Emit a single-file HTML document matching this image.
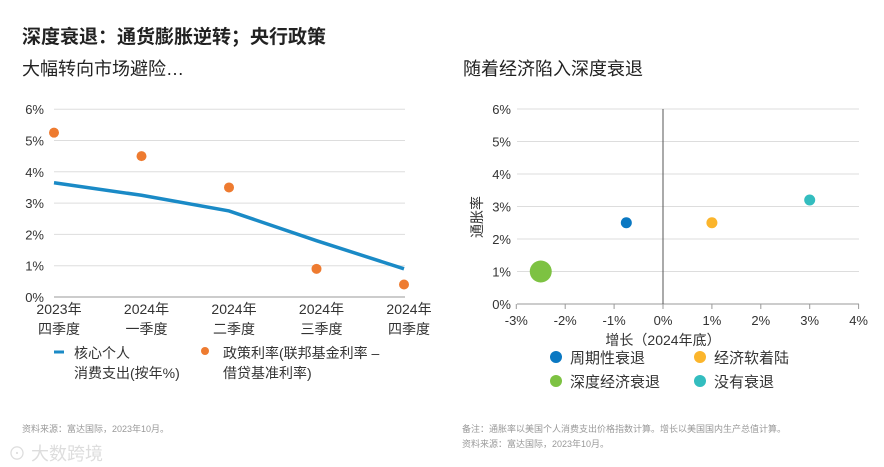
<!DOCTYPE html>
<html><head><meta charset="utf-8"><style>
body{margin:0;width:884px;height:467px;background:#fff;font-family:"Liberation Sans","Noto Sans CJK SC",sans-serif;overflow:hidden;position:relative;color:#222}
.t{position:absolute;white-space:nowrap}
</style></head><body>
<div class="t" style="left:22px;top:22px;font-size:19px;font-weight:bold">深度衰退：通货膨胀逆转；央行政策</div>
<div class="t" style="left:22px;top:55px;font-size:18px">大幅转向市场避险…</div>
<div class="t" style="left:463px;top:55px;font-size:18px">随着经济陷入深度衰退</div>
<div class="t" style="left:22px;top:422px;font-size:9px;color:#999">资料来源：富达国际，2023年10月。</div>
<div class="t" style="left:462px;top:422px;font-size:9px;color:#999">备注：通胀率以美国个人消费支出价格指数计算。增长以美国国内生产总值计算。</div>
<div class="t" style="left:462px;top:437px;font-size:9px;color:#999">资料来源：富达国际，2023年10月。</div>
<div class="t" style="left:8px;top:440px;font-size:18px;color:#ddd">⊙ 大数跨境</div>
<svg id="c" width="884" height="467" style="position:absolute;left:0;top:0"></svg>
<script>
const cats=["2023年|四季度","2024年|一季度","2024年|二季度","2024年|三季度","2024年|四季度"];
const pce=[3.65,3.25,2.75,1.8,0.9];
const policy=[5.25,4.5,3.5,0.9,0.4];
const yTicks=[0,1,2,3,4,5,6];
const xTicks=[-3,-2,-1,0,1,2,3,4];
const scNames=["周期性衰退","经济软着陆","深度经济衰退","没有衰退"];
const scX=[-0.75,1,-2.5,3];
const scY=[2.5,2.5,1,3.2];
const scBig=[0,0,1,0];
const scCol=["#0a78c2","#fbb52c","#7dc242","#33bdbf"];
const NS="http://www.w3.org/2000/svg",svg=document.getElementById('c');
function el(t,a,txt){const e=document.createElementNS(NS,t);for(const k in a)e.setAttribute(k,a[k]);if(txt!=null)e.textContent=txt;svg.appendChild(e);return e;}
const F='"Liberation Sans","Noto Sans CJK SC",sans-serif';
// left chart
const lx=i=>54+i*87.5, ly=v=>297-v*31.3;
yTicks.forEach(v=>{const g=el('line',{x1:54,x2:405,y1:ly(v),y2:ly(v),stroke:v?'#ddd':'#999','stroke-width':1});

const t=el('text',{x:44,y:ly(v)+5,'text-anchor':'end','font-size':13,'font-family':F,fill:'#333'},v+'%');
});
cats.forEach((c,i)=>{c.split('|').forEach((s,j)=>{const t=el('text',{x:lx(i)+5,y:314+j*20,'text-anchor':'middle','font-size':14,'font-family':F,fill:'#333'},s);
});});
const p=el('polyline',{points:pce.map((v,i)=>lx(i)+','+ly(v)).join(' '),fill:'none',stroke:'#1a8ac6','stroke-width':3.5});

policy.forEach((v,i)=>{const c=el('circle',{cx:lx(i),cy:ly(v),r:5,fill:'#ee7b30'});
});
let e=el('line',{x1:54,x2:64,y1:352,y2:352,stroke:'#1a8ac6','stroke-width':3});
e=el('text',{x:74,y:358,'font-size':14,'font-family':F,fill:'#333'},'核心个人');
e=el('text',{x:74,y:378,'font-size':14,'font-family':F,fill:'#333'},'消费支出(按年%)');
e=el('circle',{cx:205,cy:351,r:4,fill:'#ee7b30'});
e=el('text',{x:223,y:358,'font-size':14,'font-family':F,fill:'#333'},'政策利率(联邦基金利率 –');
e=el('text',{x:223,y:378,'font-size':14,'font-family':F,fill:'#333'},'借贷基准利率)');
// right chart
const rx=v=>663+v*48.9, ry=v=>304-v*32.5;
yTicks.forEach(v=>{const g=el('line',{x1:517,x2:859,y1:ry(v),y2:ry(v),stroke:v?'#ddd':'#999','stroke-width':1});

const t=el('text',{x:511,y:ry(v)+5,'text-anchor':'end','font-size':13,'font-family':F,fill:'#333'},v+'%');
});
xTicks.forEach(v=>{const l=el('line',{x1:rx(v),x2:rx(v),y1:304,y2:309,stroke:'#999'});
const t=el('text',{x:rx(v),y:325,'text-anchor':'middle','font-size':13,'font-family':F,fill:'#333'},v+'%');
});
e=el('line',{x1:rx(0),x2:rx(0),y1:109,y2:304,stroke:'#555','stroke-width':1});
e=el('text',{x:663,y:345,'text-anchor':'middle','font-size':14,'font-family':F,fill:'#333'},'增长（2024年底）');
e=el('text',{x:0,y:0,'text-anchor':'middle','font-size':14,'font-family':F,fill:'#333',transform:'translate(482,217) rotate(-90)'},'通胀率');
scX.forEach((x,i)=>{const c=el('circle',{cx:rx(x),cy:ry(scY[i]),r:scBig[i]?11:5.5,fill:scCol[i]});
});
const lp=[[556,357],[700,357],[556,381],[700,381]];
scNames.forEach((n,i)=>{const c=el('circle',{cx:lp[i][0],cy:lp[i][1],r:6,fill:scCol[i]});
const t=el('text',{x:lp[i][0]+14,y:lp[i][1]+6,'font-size':15,'font-family':F,fill:'#333'},n);});
</script>
</body></html>
